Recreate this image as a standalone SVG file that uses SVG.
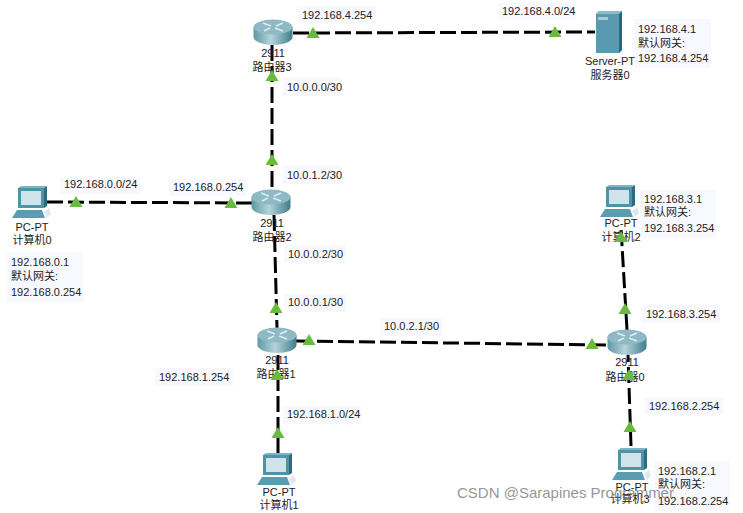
<svg xmlns="http://www.w3.org/2000/svg" width="743" height="513" viewBox="0 0 743 513">
<style>
text{font-family:"Liberation Sans","Noto Sans CJK SC",sans-serif;font-size:11px;fill:#222}
.c{text-anchor:middle}
.bg{fill:#f8f8ff}
.link{stroke:#000;stroke-width:3;stroke-dasharray:16 5;fill:none}
.tri{fill:#68bb3e}
.wm{font-size:15px;fill:#666;fill-opacity:.7}
</style>
<defs>
<linearGradient id="rs" x1="0" x2="1" y1="0" y2="0"><stop offset="0" stop-color="#5f98a6"/><stop offset=".45" stop-color="#b4d4da"/><stop offset="1" stop-color="#3f7d8d"/></linearGradient>
<polygon id="t" points="0,-6 6.5,5 -6.5,5"/>
<g id="router">
<path d="M-19.500,-5V5C-19.500,10 -9,13 0,13S19.500,10 19.500,5V-5Z" fill="url(#rs)"/>
<ellipse cx="0" cy="-5" rx="19.500" ry="7.500" fill="#8fb9c5"/>
<path d="M-10,-9L-2,-6M10,-1L2,-4M-9,-1L-3,-4M10,-9L3,-6" stroke="#dcebef" stroke-width="1.800" fill="none"/>
</g>
<g id="pc">
<path d="M-14,-15H12V5H-14Z" fill="#4f93a8"/>
<path d="M12,-15L15,-17V3L12,5Z" fill="#2c6c80"/>
<path d="M-14,-15L-11,-17H15L12,-15Z" fill="#7eb4c4"/>
<rect x="-11" y="-12" width="20" height="14" fill="#cfe4ea"/>
<path d="M-15,7H10L13,15H-20Z" fill="#5b9db0"/>
<path d="M12,9L17,5L19,11L15,15Z" fill="#dfe9ec"/>
</g>
<g id="srv">
<path d="M0,4L3,1H26V40L23,43H0Z" fill="#5a9ab0"/>
<path d="M23,4L26,1V40L23,43Z" fill="#1f6c80"/>
<path d="M0,4L3,1H26L23,4Z" fill="#8abccb"/>
<rect x="2" y="7" width="10" height="3" fill="#a7cbd6"/>
</g>
</defs>

<g id="labels-bg">
<rect class="bg" x="298" y="6" width="78" height="17"/>
<rect class="bg" x="498" y="3" width="78" height="17"/>
<rect class="bg" x="634" y="19" width="77" height="49"/>
<rect class="bg" x="283" y="77" width="58" height="19"/>
<rect class="bg" x="283" y="165" width="58" height="19"/>
<rect class="bg" x="60" y="177" width="80" height="17"/>
<rect class="bg" x="169" y="179" width="78" height="17"/>
<rect class="bg" x="7" y="252" width="76" height="50"/>
<rect class="bg" x="284" y="245" width="62" height="18"/>
<rect class="bg" x="284" y="294" width="62" height="18"/>
<rect class="bg" x="380" y="318" width="62" height="18"/>
<rect class="bg" x="155" y="368" width="78" height="18"/>
<rect class="bg" x="283" y="406" width="78" height="18"/>
<rect class="bg" x="640" y="190" width="76" height="48"/>
<rect class="bg" x="642" y="305" width="78" height="18"/>
<rect class="bg" x="645" y="397" width="78" height="18"/>
<rect class="bg" x="654" y="461" width="76" height="50"/>
</g>

<g id="connectors">
<path class="link" d="M293,33L595,32"/>
<path class="link" d="M272,45V190"/>
<path class="link" d="M47,202L255,203"/>
<path class="link" d="M274,215L277,328"/>
<path class="link" d="M296,341L608,345"/>
<path class="link" d="M278,454V355"/>
<path class="link" d="M627,330L621,228"/>
<path class="link" d="M631,446L628,355"/>
</g>

<g id="node-router3"><use href="#router" x="273" y="32"/><text class="c" x="273" y="57">2911</text><text class="c" x="272" y="71">路由器3</text></g>
<g id="node-router2"><use href="#router" x="271" y="202"/><text class="c" x="272" y="227">2911</text><text class="c" x="272" y="241">路由器2</text></g>
<g id="node-router1"><use href="#router" x="277" y="340"/><text class="c" x="277" y="364">2911</text><text class="c" x="276" y="378">路由器1</text></g>
<g id="node-router0"><use href="#router" x="627" y="342"/><text class="c" x="627" y="366">2911</text><text class="c" x="625" y="381">路由器0</text></g>
<g id="node-server0"><use href="#srv" x="596" y="10"/><text class="c" x="610" y="65">Server-PT</text><text class="c" x="610" y="79">服务器0</text></g>
<g id="node-pc0"><use href="#pc" x="32" y="203"/><text class="c" x="32" y="231">PC-PT</text><text class="c" x="32" y="244">计算机0</text></g>
<g id="node-pc1"><use href="#pc" x="277" y="470"/><text class="c" x="279" y="496">PC-PT</text><text class="c" x="279" y="509">计算机1</text></g>
<g id="node-pc2"><use href="#pc" x="620" y="202"/><text class="c" x="621" y="227">PC-PT</text><text class="c" x="621" y="241">计算机2</text></g>
<g id="node-pc3"><use href="#pc" x="632" y="465"/><text class="c" x="632" y="491">PC-PT</text><text class="c" x="630" y="503">计算机3</text></g>

<g id="link-lights" class="tri">
<use href="#t" x="313" y="33"/><use href="#t" x="555" y="32"/>
<use href="#t" x="272" y="76"/><use href="#t" x="272" y="160"/>
<use href="#t" x="76" y="202"/><use href="#t" x="231" y="203"/>
<use href="#t" x="276" y="308"/><use href="#t" x="277" y="375"/>
<use href="#t" x="309" y="340"/><use href="#t" x="592" y="344"/>
<use href="#t" x="278" y="433"/><use href="#t" x="625" y="309"/>
<use href="#t" x="621" y="237"/><use href="#t" x="629" y="375"/>
<use href="#t" x="630" y="427"/>
</g>

<g id="labels">
<text x="302" y="19">192.168.4.254</text>
<text x="502" y="15">192.168.4.0/24</text>
<text x="638" y="33">192.168.4.1</text><text x="638" y="47">默认网关:</text><text x="638" y="62">192.168.4.254</text>
<text x="287" y="91">10.0.0.0/30</text>
<text x="287" y="179">10.0.1.2/30</text>
<text x="64" y="188">192.168.0.0/24</text>
<text x="173" y="191">192.168.0.254</text>
<text x="11" y="266">192.168.0.1</text><text x="11" y="280">默认网关:</text><text x="11" y="296">192.168.0.254</text>
<text x="288" y="258">10.0.0.2/30</text>
<text x="288" y="306">10.0.0.1/30</text>
<text x="384" y="330">10.0.2.1/30</text>
<text x="159" y="381">192.168.1.254</text>
<text x="287" y="418">192.168.1.0/24</text>
<text x="644" y="203">192.168.3.1</text><text x="644" y="216">默认网关:</text><text x="644" y="232">192.168.3.254</text>
<text x="646" y="318">192.168.3.254</text>
<text x="649" y="410">192.168.2.254</text>
<text x="658" y="475">192.168.2.1</text><text x="658" y="488">默认网关:</text><text x="658" y="505">192.168.2.254</text>
<text class="wm" x="457" y="498">CSDN @Sarapines Programmer</text>
</g>
</svg>
